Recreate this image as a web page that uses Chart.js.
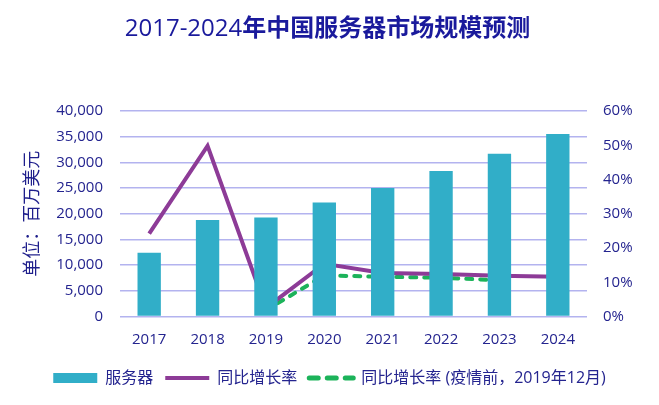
<!DOCTYPE html>
<html>
<head>
<meta charset="utf-8">
<script src="https://cdn.jsdelivr.net/npm/chart.js@4/dist/chart.umd.min.js"></script>
<style>
  html, body { margin: 0; padding: 0; background: #fff; }
  #wrap { width: 659px; height: 405px; }
</style>
</head>
<body>
<div id="wrap"><canvas id="myChart"></canvas></div>
<script>
const years = ['2017', '2018', '2019', '2020', '2021', '2022', '2023', '2024'];
const serverSize = [12400, 18800, 19250, 22200, 25000, 28300, 31700, 35500];
const growth = [24.2, 49.8, 2.5, 15.4, 12.7, 12.4, 11.9, 11.6];
const growthPreCovid = [null, null, 1.8, 12.0, 11.6, 11.3, 10.6, null];
const seriesNames = ['服务器', '同比增长率', '同比增长率 (疫情前，2019年12月)'];
const titleNum = '2017-2024';
const titleText = '年中国服务器市场规模预测';

const fontFam = "'Open Sans', 'Noto Sans CJK SC', sans-serif";
const textColor = '#24248f';
const gridColor = '#b3b3ef';

// title: digits regular, chinese bold
const titlePlugin = {
  id: 'mixedTitle',
  afterDraw(chart) {
    const ctx = chart.ctx;
    ctx.save();
    ctx.fillStyle = '#1a1a9c';
    ctx.textBaseline = 'middle';
    ctx.font = "24px " + fontFam;
    const w1 = ctx.measureText(titleNum).width;
    ctx.font = "bold 24px " + fontFam;
    const w2 = ctx.measureText(titleText).width;
    let x = chart.width / 2 - (w1 + w2) / 2 - 2;
    ctx.font = "24px " + fontFam;
    ctx.fillText(titleNum, x, 29);
    ctx.font = "bold 24px " + fontFam;
    ctx.fillText(titleText, x + w1, 29);
    ctx.restore();
  }
};

new Chart('myChart', {
  type: 'bar',
  data: {
    labels: years,
    datasets: [{
      label: seriesNames[0],
      data: serverSize,
      backgroundColor: '#31aec8',
      borderWidth: 0,
      barPercentage: 0.4,
      categoryPercentage: 1,
      pointStyle: 'rect',
      yAxisID: 'y'
    }, {
      type: 'line',
      label: seriesNames[1],
      data: growth,
      borderColor: '#8d3b97',
      backgroundColor: '#8d3b97',
      borderWidth: 4,
      pointRadius: 0,
      pointStyle: 'line',
      tension: 0,
      yAxisID: 'y1'
    }, {
      type: 'line',
      label: seriesNames[2],
      data: growthPreCovid,
      borderColor: '#1cb35a',
      backgroundColor: '#1cb35a',
      borderWidth: 4,
      borderDash: [6, 8],
      borderCapStyle: 'round',
      pointRadius: 0,
      pointStyle: 'line',
      tension: 0,
      yAxisID: 'y1'
    }]
  },
  options: {
    responsive: true,
    maintainAspectRatio: false,
    animation: false,
    layout: { padding: { top: 111, bottom: 9, left: 0, right: 0 } },
    plugins: {
      title: { display: false },
      tooltip: { enabled: false },
      legend: {
        position: 'bottom',
        labels: {
          usePointStyle: true,
          pointStyleWidth: 44,
          boxHeight: 10,
          padding: 12,
          color: textColor,
          font: { family: fontFam, size: 16 },
          generateLabels: chart => {
            const items = Chart.defaults.plugins.legend.labels.generateLabels(chart);
            items.forEach(it => {
              const ds = chart.data.datasets[it.datasetIndex];
              if (ds.borderDash) {
                it.lineDash = [9, 9];
                it.lineCap = 'round';
                it.lineWidth = 5;
              }
            });
            return items;
          }
        }
      }
    },
    scales: {
      x: {
        grid: { display: false, drawTicks: false },
        border: { display: false },
        ticks: { color: textColor, font: { family: fontFam, size: 15 }, padding: 14 },
        afterFit: s => { s.height = 41.5; }
      },
      y: {
        position: 'left',
        min: 0,
        max: 40000,
        ticks: {
          stepSize: 5000,
          color: textColor,
          padding: 17,
          font: { family: fontFam, size: 15 },
          callback: v => v.toLocaleString('en-US')
        },
        grid: { color: gridColor, lineWidth: 1.5, drawTicks: false },
        border: { display: false },
        title: {
          display: true,
          text: '单位：百万美元',
          color: '#1f1f8c',
          font: { family: fontFam, size: 18 },
          padding: { top: 22, bottom: 0 }
        },
        afterFit: s => { s.width = 120; }
      },
      y1: {
        position: 'right',
        min: 0,
        max: 60,
        ticks: {
          stepSize: 10,
          color: textColor,
          padding: 16,
          font: { family: fontFam, size: 15 },
          callback: v => v + '%'
        },
        grid: { display: false, drawTicks: false },
        border: { display: false },
        afterFit: s => { s.width = 72; }
      }
    }
  },
  plugins: [titlePlugin]
});
</script>
</body>
</html>
